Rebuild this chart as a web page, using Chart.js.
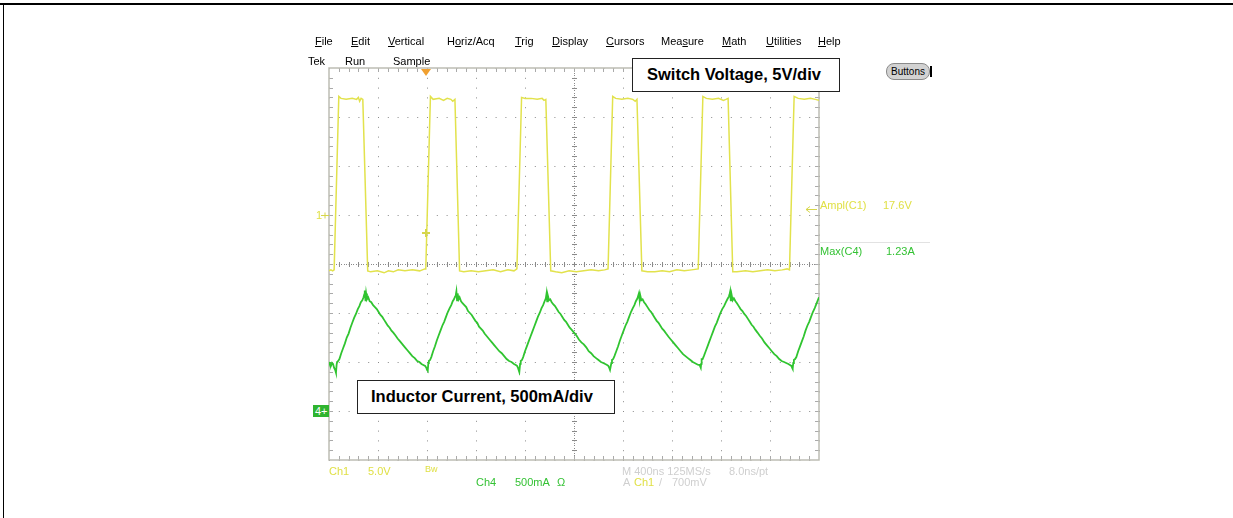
<!DOCTYPE html>
<html>
<head>
<meta charset="utf-8">
<script src="https://cdn.jsdelivr.net/npm/chart.js"></script>
<style>
  html, body { margin: 0; padding: 0; background: #fff; }
  body { width: 1233px; height: 518px; position: relative; overflow: hidden;
         font-family: "Liberation Sans", Arial, sans-serif; }
  #scope { position: absolute; left: 0; top: 0; }
  .t { position: absolute; font-size: 11px; line-height: 13px; white-space: nowrap; color: #000; }
  .y { color: #e0e046; }
  .g { color: #34c234; }
  .s { color: #cfcfcf; }
  .box { position: absolute; box-sizing: border-box; border: 1.5px solid #222; background: #fff;
         font-weight: bold; font-size: 16.5px; line-height: 31px; white-space: nowrap; }
</style>
</head>
<body>
<canvas id="scope" width="1233" height="518"></canvas>

<!-- page frame -->
<div style="position:absolute;left:0;top:3px;width:1233px;height:2px;background:#000"></div>
<div style="position:absolute;left:3px;top:3px;width:1px;height:515px;background:#000"></div>

<!-- menu bar -->
<div class="t" style="left:315px;top:35px"><u>F</u>ile</div>
<div class="t" style="left:351px;top:35px"><u>E</u>dit</div>
<div class="t" style="left:388px;top:35px"><u>V</u>ertical</div>
<div class="t" style="left:447px;top:35px">H<u>o</u>riz/Acq</div>
<div class="t" style="left:515px;top:35px"><u>T</u>rig</div>
<div class="t" style="left:552px;top:35px"><u>D</u>isplay</div>
<div class="t" style="left:606px;top:35px"><u>C</u>ursors</div>
<div class="t" style="left:661px;top:35px">Mea<u>s</u>ure</div>
<div class="t" style="left:722px;top:35px"><u>M</u>ath</div>
<div class="t" style="left:766px;top:35px"><u>U</u>tilities</div>
<div class="t" style="left:818px;top:35px"><u>H</u>elp</div>

<div class="t" style="left:308px;top:55px">Tek</div>
<div class="t" style="left:345px;top:55px">Run</div>
<div class="t" style="left:393px;top:55px">Sample</div>

<div style="position:absolute;left:886px;top:63px;width:44px;height:17px;box-sizing:border-box;border:1px solid #8a8a8a;border-radius:8px;background:#d2d2d2;font-size:10px;line-height:15px;text-align:center">Buttons</div>
<div style="position:absolute;left:930px;top:66px;width:2px;height:11px;background:#000"></div>

<div class="box" style="left:632px;top:58px;width:208px;height:34px;padding-left:14px">Switch Voltage, 5V/div</div>
<div class="box" style="left:357px;top:380px;width:258px;height:34px;padding-left:13px">Inductor Current, 500mA/div</div>

<!-- channel markers -->
<div class="t y" style="left:316px;top:209px">1</div>
<div style="position:absolute;left:313px;top:405px;width:16px;height:12px;background:#2fb42f;color:#fff;font-size:11px;line-height:12px;padding-left:2px;box-sizing:border-box">4+</div>

<!-- measurements -->
<div class="t y" style="left:820px;top:199px">Ampl(C1)</div>
<div class="t y" style="left:883px;top:199px">17.6V</div>
<div style="position:absolute;left:818px;top:242px;width:112px;height:1px;background:#e2e2e2"></div>
<div class="t g" style="left:820px;top:245px">Max(C4)</div>
<div class="t g" style="left:886px;top:245px">1.23A</div>

<!-- status line -->
<div class="t y" style="left:329px;top:465px">Ch1</div>
<div class="t y" style="left:368px;top:465px">5.0V</div>
<div class="t y" style="left:425px;top:463px;font-size:9px">Bw</div>
<div class="t s" style="left:622px;top:465px">M 400ns 125MS/s</div>
<div class="t s" style="left:729px;top:465px">8.0ns/pt</div>
<div class="t g" style="left:476px;top:476px">Ch4</div>
<div class="t g" style="left:515px;top:476px">500mA</div>
<div class="t g" style="left:557px;top:476px">Ω</div>
<div class="t s" style="left:623px;top:476px">A</div>
<div class="t y" style="left:634px;top:476px">Ch1</div>
<div class="t s" style="left:659px;top:476px">/</div>
<div class="t s" style="left:672px;top:476px">700mV</div>

<script>
// screen: 10 divisions of 400 ns, 8 divisions vertically
const timeDivs = [0, 400, 800, 1200, 1600, 2000, 2400, 2800, 3200, 3600, 4000];
const voltRange = [-25, 15];   // Ch1, 5 V/div
const ampRange = [-0.5, 3.5];  // Ch4, 500 mA/div

const trigTime = 795;    // ns
const trigMarkV = -1.8;  // V, marker on the rising edge
const amplMarkV = 0.6;   // V, Ampl cursor arrow

// Ch1 switch voltage [ns, V]
const ch1Trace = [
    [0, -5.7], [16, -5.6], [30, -5.7], [42, -5.6], [80, 12.1], [98, 11.9], [140, 11.8], [190, 11.9],
    [225, 11.8], [240, 12.0], [250, 11.6], [262, 11.9], [276, 11.8], [316, -5.7], [340, -5.8],
    [395, -5.7], [450, -5.9], [485, -5.7], [525, -5.8], [565, -5.6], [620, -5.7], [680, -5.6],
    [740, -5.7], [782, -5.5],
    [790, -5.5], [828, 12.1], [850, 11.8], [900, 11.9], [935, 11.7], [965, 11.9], [995, 11.8],
    [1010, 11.6], [1028, 11.8], [1066, -5.7], [1100, -5.8], [1160, -5.7], [1220, -5.8], [1280, -5.7],
    [1340, -5.6], [1400, -5.8], [1460, -5.6], [1510, -5.7], [1534, -5.5],
    [1572, 12.0], [1600, 11.9], [1650, 11.9], [1700, 11.8], [1740, 11.9], [1755, 11.7], [1770, 11.8],
    [1810, -5.7], [1850, -5.8], [1900, -5.9], [1960, -5.7], [2020, -5.8], [2080, -5.7], [2140, -5.6],
    [2200, -5.7], [2250, -5.6], [2278, -5.5],
    [2316, 12.1], [2340, 11.9], [2390, 11.8], [2440, 11.9], [2480, 11.8], [2500, 11.6], [2514, 11.8],
    [2554, -5.7], [2600, -5.8], [2660, -5.8], [2720, -5.7], [2780, -5.8], [2840, -5.6], [2900, -5.7],
    [2960, -5.6], [3014, -5.5],
    [3052, 12.1], [3080, 11.9], [3130, 11.8], [3180, 11.9], [3220, 11.7], [3240, 11.8], [3258, 11.9],
    [3296, -5.8], [3330, -5.8], [3400, -5.7], [3460, -5.8], [3520, -5.7], [3580, -5.6], [3640, -5.7],
    [3700, -5.6], [3740, -5.5], [3759, -5.6],
    [3797, 12.1], [3830, 11.9], [3880, 11.8], [3930, 11.9], [3970, 11.8], [4000, 11.7]
];

// Ch4 inductor current [ns, A]
const ch4Trace = [
    [0, 0.50], [8, 0.47], [16, 0.46], [25, 0.49], [33, 0.48], [42, 0.44], [50, 0.42], [57, 0.39],
    [62, 0.47], [66, 0.50], [75, 0.51], [85, 0.53], [100, 0.59], [115, 0.64], [130, 0.69], [145, 0.75],
    [160, 0.79], [175, 0.85], [190, 0.90], [205, 0.95], [220, 0.99], [235, 1.04], [248, 1.07],
    [260, 1.11], [272, 1.13], [282, 1.16], [288, 1.19], [292, 1.23], [298, 1.12], [303, 1.20],
    [310, 1.14], [320, 1.16], [332, 1.12], [345, 1.11], [360, 1.08], [375, 1.06], [390, 1.04],
    [405, 1.01], [420, 0.98], [435, 0.96], [450, 0.93], [465, 0.90], [480, 0.87], [495, 0.85],
    [510, 0.82], [525, 0.80], [543, 0.77], [560, 0.74], [580, 0.71], [600, 0.68], [620, 0.65],
    [640, 0.62], [660, 0.59], [680, 0.56], [700, 0.54], [720, 0.51], [738, 0.50], [755, 0.48],
    [770, 0.47], [785, 0.46], [795, 0.44], [800, 0.42],
    [806, 0.41], [811, 0.49], [815, 0.51], [825, 0.52], [835, 0.55], [850, 0.61], [865, 0.66],
    [880, 0.72], [895, 0.77], [910, 0.82], [925, 0.87], [940, 0.91], [955, 0.96], [970, 1.01],
    [985, 1.05], [998, 1.08], [1010, 1.12], [1020, 1.14], [1030, 1.17], [1036, 1.19], [1040, 1.22],
    [1045, 1.13], [1050, 1.20], [1058, 1.14], [1066, 1.16], [1078, 1.12], [1090, 1.10], [1105, 1.08],
    [1120, 1.06], [1135, 1.02], [1150, 1.00], [1165, 0.98], [1180, 0.95], [1195, 0.92], [1210, 0.90],
    [1225, 0.86], [1240, 0.84], [1255, 0.82], [1270, 0.79], [1290, 0.76], [1310, 0.73], [1330, 0.70],
    [1350, 0.67], [1370, 0.64], [1390, 0.61], [1410, 0.59], [1430, 0.56], [1450, 0.53], [1470, 0.51],
    [1490, 0.50], [1510, 0.48], [1525, 0.47], [1535, 0.46], [1543, 0.44], [1548, 0.42],
    [1554, 0.40], [1560, 0.48], [1565, 0.51], [1575, 0.52], [1585, 0.55], [1600, 0.61], [1615, 0.66],
    [1630, 0.71], [1645, 0.76], [1660, 0.81], [1675, 0.86], [1690, 0.91], [1705, 0.96], [1720, 1.00],
    [1735, 1.05], [1748, 1.08], [1760, 1.12], [1770, 1.15], [1776, 1.20], [1781, 1.12], [1786, 1.18],
    [1796, 1.13], [1806, 1.14], [1818, 1.11], [1830, 1.09], [1845, 1.07], [1860, 1.04], [1875, 1.01],
    [1890, 0.99], [1905, 0.96], [1920, 0.93], [1935, 0.91], [1950, 0.88], [1965, 0.85], [1980, 0.83],
    [2000, 0.80], [2020, 0.77], [2040, 0.73], [2060, 0.70], [2080, 0.68], [2100, 0.65], [2120, 0.61],
    [2140, 0.59], [2160, 0.56], [2180, 0.54], [2200, 0.52], [2220, 0.50], [2238, 0.49], [2255, 0.48],
    [2270, 0.47], [2280, 0.46], [2288, 0.44], [2294, 0.42],
    [2299, 0.42], [2305, 0.49], [2310, 0.52], [2320, 0.53], [2330, 0.56], [2345, 0.61], [2360, 0.66],
    [2375, 0.72], [2390, 0.77], [2405, 0.82], [2420, 0.87], [2435, 0.91], [2450, 0.96], [2465, 1.01],
    [2480, 1.05], [2493, 1.08], [2505, 1.12], [2518, 1.15], [2530, 1.20], [2536, 1.13], [2541, 1.18],
    [2550, 1.13], [2560, 1.14], [2572, 1.11], [2585, 1.09], [2600, 1.06], [2615, 1.03], [2630, 1.01],
    [2645, 0.98], [2660, 0.95], [2675, 0.92], [2690, 0.90], [2705, 0.87], [2720, 0.84], [2735, 0.82],
    [2752, 0.79], [2770, 0.76], [2790, 0.73], [2810, 0.70], [2830, 0.67], [2850, 0.64], [2870, 0.61],
    [2890, 0.58], [2910, 0.56], [2930, 0.54], [2950, 0.52], [2970, 0.50], [2985, 0.49], [3000, 0.48],
    [3015, 0.47], [3025, 0.47], [3035, 0.44],
    [3038, 0.48], [3042, 0.53], [3050, 0.53], [3060, 0.56], [3075, 0.61], [3090, 0.66], [3105, 0.71],
    [3120, 0.76], [3135, 0.81], [3150, 0.86], [3165, 0.90], [3180, 0.95], [3195, 1.00], [3210, 1.04],
    [3225, 1.07], [3240, 1.11], [3252, 1.14], [3265, 1.17], [3270, 1.19], [3275, 1.22], [3280, 1.12],
    [3286, 1.19], [3295, 1.13], [3305, 1.15], [3318, 1.12], [3330, 1.10], [3345, 1.07], [3360, 1.04],
    [3375, 1.02], [3390, 0.99], [3405, 0.97], [3420, 0.94], [3435, 0.91], [3450, 0.88], [3465, 0.86],
    [3480, 0.83], [3498, 0.80], [3515, 0.77], [3535, 0.74], [3555, 0.70], [3575, 0.67], [3595, 0.64],
    [3615, 0.61], [3635, 0.58], [3655, 0.56], [3675, 0.53], [3695, 0.51], [3715, 0.50], [3732, 0.49],
    [3750, 0.48], [3763, 0.47], [3775, 0.46], [3781, 0.44], [3785, 0.43],
    [3790, 0.49], [3795, 0.52], [3805, 0.53], [3815, 0.55], [3830, 0.61], [3845, 0.66], [3860, 0.71],
    [3875, 0.76], [3890, 0.82], [3905, 0.87], [3920, 0.91], [3935, 0.96], [3950, 1.01], [3965, 1.05],
    [3978, 1.09], [3990, 1.13], [4000, 1.16]
];

function toPoints(trace) {
    return trace.map(p => ({ x: p[0], y: p[1] }));
}

// scope graticule extras + markers
const scopeDecor = {
    id: "scopeDecor",
    beforeDatasetsDraw(chart) {
        const { ctx, chartArea: a, scales } = chart;
        const stepX = (a.right - a.left) / 50;
        const stepY = (a.bottom - a.top) / 40;
        const cx = Math.round(scales.x.getPixelForValue(2000));
        const cy = Math.round(scales.yV.getPixelForValue(-5));

        ctx.save();
        ctx.fillStyle = "#8a8a8a";
        // denser dots on the centre lines
        for (let px = a.left; px < a.right; px += stepX / 4) {
            ctx.fillRect(Math.round(px), cy, 1, 1);
        }
        for (let py = a.top; py < a.bottom; py += stepY / 4) {
            ctx.fillRect(cx, Math.round(py), 1, 1);
        }
        for (let i = 1; i < 50; i++) {
            ctx.fillRect(Math.round(a.left + i * stepX), cy - 2, 1, 5);
        }
        for (let j = 1; j < 40; j++) {
            ctx.fillRect(cx - 2, Math.round(a.top + j * stepY), 5, 1);
        }

        // ticks along the frame
        ctx.fillStyle = "#aaaaaa";
        for (let i = 1; i < 50; i++) {
            const px = Math.round(a.left + i * stepX);
            ctx.fillRect(px, a.top, 1, 4);
            ctx.fillRect(px, a.bottom - 4, 1, 4);
        }
        for (let j = 1; j < 40; j++) {
            const py = Math.round(a.top + j * stepY);
            ctx.fillRect(a.left, py, 4, 1);
            ctx.fillRect(a.right - 4, py, 4, 1);
        }

        ctx.strokeStyle = "#bdbdb4";
        ctx.lineWidth = 1.5;
        ctx.strokeRect(a.left, a.top, a.right - a.left, a.bottom - a.top);
        ctx.restore();
    },
    afterDatasetsDraw(chart) {
        const { ctx, chartArea: a, scales } = chart;
        ctx.save();

        // Ch1 ground marker
        const gy = Math.round(scales.yV.getPixelForValue(0)) + 0.5;
        ctx.strokeStyle = "#d6d64a";
        ctx.lineWidth = 1;
        ctx.beginPath();
        ctx.moveTo(a.left - 8, gy);
        ctx.lineTo(a.left, gy);
        ctx.moveTo(a.left - 4, gy - 3);
        ctx.lineTo(a.left - 4, gy + 3);
        ctx.stroke();

        // trigger level mark on the trace
        const tx = Math.round(scales.x.getPixelForValue(trigTime));
        const ty = Math.round(scales.yV.getPixelForValue(trigMarkV));
        ctx.fillStyle = "#d6d64a";
        ctx.fillRect(tx - 4, ty - 1, 8, 2);
        ctx.fillRect(tx - 1, ty - 4, 2, 8);

        // trigger position
        ctx.fillStyle = "#f0a030";
        ctx.beginPath();
        ctx.moveTo(tx - 5, a.top + 1);
        ctx.lineTo(tx + 5, a.top + 1);
        ctx.lineTo(tx, a.top + 8);
        ctx.closePath();
        ctx.fill();

        // Ampl cursor arrow
        const ay = Math.round(scales.yV.getPixelForValue(amplMarkV)) + 0.5;
        ctx.strokeStyle = "#d6d64a";
        ctx.beginPath();
        ctx.moveTo(a.right - 2, ay);
        ctx.lineTo(a.right - 13, ay);
        ctx.moveTo(a.right - 9, ay - 3);
        ctx.lineTo(a.right - 13, ay);
        ctx.lineTo(a.right - 9, ay + 3);
        ctx.stroke();

        ctx.restore();
    }
};

const gridLines = {
    color: "#8a8a8a",
    lineWidth: 1,
    drawTicks: false
};

new Chart(document.getElementById("scope"), {
    type: "line",
    data: {
        datasets: [
            {
                label: "Ch1",
                data: toPoints(ch1Trace),
                yAxisID: "yV",
                borderColor: "#e2e24c",
                borderWidth: 1.5,
                pointRadius: 0,
                tension: 0
            },
            {
                label: "Ch4",
                data: toPoints(ch4Trace),
                yAxisID: "yA",
                borderColor: "#30c430",
                borderWidth: 1.8,
                pointRadius: 0,
                tension: 0
            }
        ]
    },
    options: {
        responsive: false,
        animation: false,
        events: [],
        layout: {
            padding: { left: 329, top: 68, right: 414, bottom: 58 }
        },
        plugins: {
            legend: { display: false },
            tooltip: { enabled: false }
        },
        scales: {
            x: {
                type: "linear",
                min: timeDivs[0],
                max: timeDivs[timeDivs.length - 1],
                afterBuildTicks: (scale) => {
                    scale.ticks = timeDivs.map(v => ({ value: v }));
                },
                ticks: { display: false, autoSkip: false },
                grid: gridLines,
                border: { display: false, dash: [1, 8.8] }
            },
            yV: {
                type: "linear",
                position: "left",
                min: voltRange[0],
                max: voltRange[1],
                ticks: { display: false, stepSize: 5 },
                grid: gridLines,
                border: { display: false, dash: [1, 8.8] }
            },
            yA: {
                type: "linear",
                display: false,
                min: ampRange[0],
                max: ampRange[1]
            }
        }
    },
    plugins: [scopeDecor]
});
</script>
</body>
</html>
